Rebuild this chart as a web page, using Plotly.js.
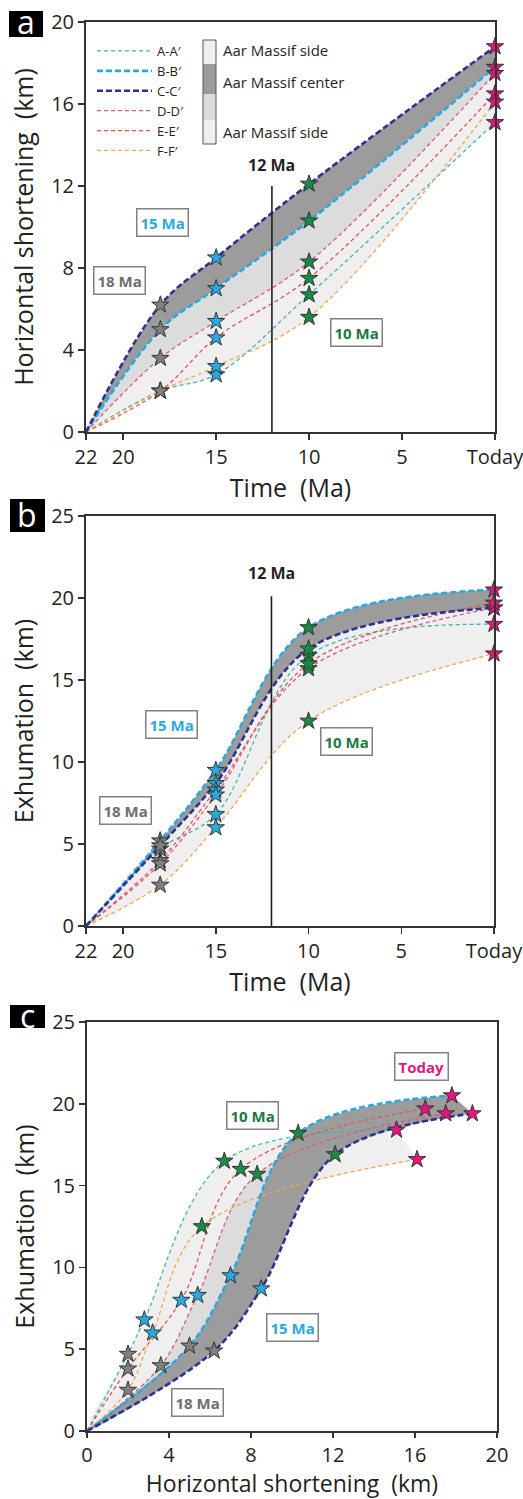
<!DOCTYPE html>
<html><head><meta charset="utf-8">
<script src="https://cdn.plot.ly/plotly-3.0.1.min.js"></script>
<style>html,body{margin:0;padding:0;background:#fff}#chart{width:523px;height:1499px}</style>
</head><body><div id="chart"></div>
<script>
// ---------- DATA ----------
// Time points (Ma); 0 = Today
const timeMa = [22, 18, 15, 10, 0];
const timeTickVals = [22, 20, 15, 10, 5, 0];
const timeTickText = ['22', '20', '15', '10', '5', 'Today'];
const sections = ['A-A′', 'B-B′', 'C-C′', 'D-D′', 'E-E′', 'F-F′'];
// Horizontal shortening (km) at 22, 18, 15, 10 Ma and Today
const shortA = [0, 2.0, 2.8, 6.7, 15.1];
const shortB = [0, 5.0, 7.0, 10.3, 17.8];
const shortC = [0, 6.2, 8.5, 12.1, 18.8];
const shortD = [0, 3.6, 5.4, 8.3, 17.5];
const shortE = [0, 2.0, 4.6, 7.5, 16.5];
const shortF = [0, 2.0, 3.2, 5.6, 16.1];
// Exhumation (km) at 22, 18, 15, 10 Ma and Today
const exhumA = [0, 4.7, 6.8, 16.5, 18.4];
const exhumB = [0, 5.2, 9.5, 18.2, 20.5];
const exhumC = [0, 4.9, 8.7, 16.9, 19.4];
const exhumD = [0, 4.0, 8.3, 15.7, 19.4];
const exhumE = [0, 3.8, 8.0, 16.0, 19.7];
const exhumF = [0, 2.5, 6.0, 12.5, 16.6];
const stageLabels = ['18 Ma', '15 Ma', '10 Ma', 'Today'];
const markerAge = 12;          // vertical "12 Ma" line
const markerTopA = 12;         // top of the line in panel a (km)
const markerTopB = 20.1;       // top of the line in panel b (km)
const legendBarLabels = ['Aar Massif side', 'Aar Massif center', 'Aar Massif side'];

// ---------- STYLE ----------
const seriesShort = [shortA, shortB, shortC, shortD, shortE, shortF];
const seriesExhum = [exhumA, exhumB, exhumC, exhumD, exhumE, exhumF];
const lineColors = ['#3fb8a9', '#29a9e0', '#2e3192', '#d9587f', '#e5534f', '#f6a54c'];
const lineWidths = [1.3, 2.6, 2.6, 1.3, 1.3, 1.3];
const lineDash = ['4px,3px', '6px,3px', '6px,3px', '4px,3px', '4px,3px', '4px,3px'];
const drawOrder = [0, 3, 4, 5, 1, 2];
const stageColors = ['#808080', '#29a9e0', '#1b8a44', '#e6157c'];
const DARK = '#9c9c9c', MED = '#dcdcdc', LIGHT = '#efefef';
const FONT = 'Open Sans, Noto Sans, sans-serif';
const W = 523, H = 1499;
const px = v => v / W, py = v => 1 - v / H;

const traces = [];
function hidden(ax, x, y) {
  return {x, y, xaxis: ax[0], yaxis: ax[1], mode: 'lines', line: {width: 0, shape: 'spline', simplify: false},
          hoverinfo: 'skip', showlegend: false};
}
function bandTonext(ax, x, lower, upper, color) {
  traces.push(hidden(ax, x, lower));
  traces.push(Object.assign(hidden(ax, x, upper), {fill: 'tonexty', fillcolor: color}));
}
// closed band between two curves; the far-end points are repeated so the spline keeps a straight closing edge
function bandPoly(ax, x1, y1, x2, y2, color) {
  const x = x1.concat([x1[x1.length - 1]], x2.slice().reverse().slice(0, 1), x2.slice().reverse());
  const y = y1.concat([y1[y1.length - 1]], y2.slice().reverse().slice(0, 1), y2.slice().reverse());
  traces.push(Object.assign(hidden(ax, x, y), {fill: 'toself', fillcolor: color}));
}
function lines(ax, xs, ys, legend) {
  drawOrder.forEach(i => {
    traces.push({x: xs[i], y: ys[i], xaxis: ax[0], yaxis: ax[1], mode: 'lines', name: sections[i],
      legendrank: i + 1, showlegend: legend,
      line: {color: lineColors[i], width: lineWidths[i], dash: lineDash[i], shape: 'spline'}});
  });
}
function stars(ax, xs, ys) {
  for (let k = 1; k <= 4; k++) {
    traces.push({x: xs.map(s => s[k]), y: ys.map(s => s[k]), xaxis: ax[0], yaxis: ax[1],
      mode: 'markers', name: stageLabels[k - 1], showlegend: false, cliponaxis: false,
      marker: {symbol: 'star', size: 13, color: stageColors[k - 1], line: {color: '#333', width: 1}}});
  }
}
const timeSeries = seriesShort.map(() => timeMa);

// Panel a
const axA = ['x', 'y'];
bandTonext(axA, timeMa, shortA, shortB, LIGHT);
bandTonext(axA, timeMa, shortF, shortB, LIGHT);
bandTonext(axA, timeMa, shortD, shortB, MED);
bandTonext(axA, timeMa, shortC, shortB, DARK);
lines(axA, timeSeries, seriesShort, true);
stars(axA, timeSeries, seriesShort);
// Panel b
const axB = ['x2', 'y2'];
bandTonext(axB, timeMa, exhumA, exhumB, LIGHT);
bandTonext(axB, timeMa, exhumF, exhumB, LIGHT);
bandTonext(axB, timeMa, exhumC, exhumB, DARK);
lines(axB, timeSeries, seriesExhum, false);
stars(axB, timeSeries, seriesExhum);
// Panel c
const axC = ['x3', 'y3'];
bandPoly(axC, shortA, exhumA, shortB, exhumB, LIGHT);
bandPoly(axC, shortA, exhumA, shortF, exhumF, LIGHT);
bandPoly(axC, shortD, exhumD, shortB, exhumB, MED);
bandPoly(axC, shortB, exhumB, shortC, exhumC, DARK);
lines(axC, seriesShort, seriesExhum, false);
stars(axC, seriesShort, seriesExhum);

// ---------- LAYOUT ----------
const axisBase = {
  showline: true, linecolor: '#333', linewidth: 2, mirror: true, showgrid: false, zeroline: false,
  ticks: 'outside', ticklen: 6, tickwidth: 1.5, tickcolor: '#333', ticklabeloverflow: 'allow',
  tickfont: {family: FONT, size: 20, color: '#231f20'}, fixedrange: true
};
function ax(extra) { return Object.assign({}, axisBase, extra); }
const titleFont = {family: FONT, size: 25, color: '#231f20'};

function boxLabel(xref, yref, x, y, text, color) {
  return {xref, yref, x, y, text: '<b>' + text + '</b>', showarrow: false,
    font: {family: FONT, size: 15, color}, bgcolor: '#fff', bordercolor: '#808080',
    borderwidth: 1.5, borderpad: 3};
}
const annotations = [
  boxLabel('x', 'y', 17.86, 10.24, '15 Ma', stageColors[1]),
  boxLabel('x', 'y', 20.2, 7.41, '18 Ma', '#6d6e71'),
  boxLabel('x', 'y', 7.43, 4.83, '10 Ma', '#1b7a3e'),
  {xref: 'x', yref: 'y', x: markerAge, y: 13.0, text: '<b>12 Ma</b>', showarrow: false,
   font: {family: FONT, size: 16, color: '#231f20'}},
  boxLabel('x2', 'y2', 17.39, 12.26, '15 Ma', stageColors[1]),
  boxLabel('x2', 'y2', 19.87, 7.07, '18 Ma', '#6d6e71'),
  boxLabel('x2', 'y2', 7.98, 11.28, '10 Ma', '#1b7a3e'),
  {xref: 'x2', yref: 'y2', x: markerAge, y: 21.5, text: '<b>12 Ma</b>', showarrow: false,
   font: {family: FONT, size: 16, color: '#231f20'}},
  boxLabel('x3', 'y3', 16.34, 22.3, 'Today', stageColors[3]),
  boxLabel('x3', 'y3', 8.05, 19.3, '10 Ma', '#1b7a3e'),
  boxLabel('x3', 'y3', 10.02, 6.3, '15 Ma', stageColors[1]),
  boxLabel('x3', 'y3', 5.41, 1.77, '18 Ma', '#6d6e71')
];
// panel letters
[['a', 26, 22], ['b', 27, 514], ['c', 27, 1015]].forEach(([t, x, y]) => {
  annotations.push({xref: 'paper', yref: 'paper', x: px(x), y: py(y), text: t, showarrow: false,
    xanchor: 'center', yanchor: 'middle', font: {family: FONT, size: 32, color: '#fff'}});
});
// legend bar labels
[[50, 0], [82, 1], [132, 2]].forEach(([y, i]) => {
  annotations.push({xref: 'paper', yref: 'paper', x: px(221), y: py(y), text: legendBarLabels[i],
    showarrow: false, xanchor: 'left', yanchor: 'middle', font: {family: FONT, size: 15, color: '#231f20'}});
});

const shapes = [
  {type: 'rect', xref: 'paper', yref: 'paper', x0: px(9), x1: px(43), y0: py(11), y1: py(37), fillcolor: '#000', line: {width: 0}},
  {type: 'rect', xref: 'paper', yref: 'paper', x0: px(10), x1: px(45), y0: py(499), y1: py(532), fillcolor: '#000', line: {width: 0}},
  {type: 'rect', xref: 'paper', yref: 'paper', x0: px(10), x1: px(45), y0: py(1005), y1: py(1028), fillcolor: '#000', line: {width: 0}},
  {type: 'line', xref: 'x', yref: 'y', x0: markerAge, x1: markerAge, y0: 0, y1: markerTopA, line: {color: '#231f20', width: 1.6}, layer: 'above'},
  {type: 'line', xref: 'x2', yref: 'y2', x0: markerAge, x1: markerAge, y0: 0, y1: markerTopB, line: {color: '#231f20', width: 1.6}, layer: 'above'},
  // legend gradient bar
  {type: 'rect', xref: 'paper', yref: 'paper', x0: px(203), x1: px(216), y0: py(40), y1: py(64), fillcolor: LIGHT, line: {width: 0}},
  {type: 'rect', xref: 'paper', yref: 'paper', x0: px(203), x1: px(216), y0: py(64), y1: py(94), fillcolor: DARK, line: {width: 0}},
  {type: 'rect', xref: 'paper', yref: 'paper', x0: px(203), x1: px(216), y0: py(94), y1: py(120), fillcolor: MED, line: {width: 0}},
  {type: 'rect', xref: 'paper', yref: 'paper', x0: px(203), x1: px(216), y0: py(120), y1: py(144), fillcolor: LIGHT, line: {width: 0}},
  {type: 'rect', xref: 'paper', yref: 'paper', x0: px(203), x1: px(216), y0: py(40), y1: py(144), line: {color: '#555', width: 1}}
];

const layout = {
  width: W, height: H, margin: {l: 0, r: 0, t: 0, b: 0},
  paper_bgcolor: '#fff', plot_bgcolor: 'rgba(0,0,0,0)',
  font: {family: FONT, color: '#231f20'},
  showlegend: true,
  legend: {x: px(92), y: py(36), xanchor: 'left', yanchor: 'top', bgcolor: 'rgba(0,0,0,0)',
    traceorder: 'normal', font: {family: FONT, size: 13, color: '#231f20'}, tracegroupgap: 0, itemwidth: 55},
  xaxis: ax({domain: [px(86), px(495)], anchor: 'y', range: [22, 0], tickvals: timeTickVals, ticktext: timeTickText,
    title: {text: 'Time\u00a0 (Ma)', font: titleFont, standoff: 0}}),
  yaxis: ax({domain: [py(432), py(22)], anchor: 'x', range: [0, 20], tickvals: [0, 4, 8, 12, 16, 20],
    title: {text: 'Horizontal shortening\u00a0 (km)', font: titleFont, standoff: 10}}),
  xaxis2: ax({domain: [px(86), px(494)], anchor: 'y2', range: [22, 0], tickvals: timeTickVals, ticktext: timeTickText,
    title: {text: 'Time\u00a0 (Ma)', font: titleFont, standoff: 3}}),
  yaxis2: ax({domain: [py(926), py(516)], anchor: 'x2', range: [0, 25], tickvals: [0, 5, 10, 15, 20, 25],
    title: {text: 'Exhumation\u00a0 (km)', font: titleFont, standoff: 10}}),
  xaxis3: ax({domain: [px(87), px(497)], anchor: 'y3', range: [0, 20], tickvals: [0, 4, 8, 12, 16, 20],
    ticklen: 5,
    title: {text: 'Horizontal shortening\u00a0 (km)', font: {family: FONT, size: 23, color: '#231f20'}, standoff: 4}}),
  yaxis3: ax({domain: [py(1431), py(1022)], anchor: 'x3', range: [0, 25], tickvals: [0, 5, 10, 15, 20, 25],
    title: {text: 'Exhumation\u00a0 (km)', font: titleFont, standoff: 10}}),
  annotations, shapes
};
Plotly.newPlot('chart', traces, layout, {staticPlot: true, displayModeBar: false});
</script></body></html>
